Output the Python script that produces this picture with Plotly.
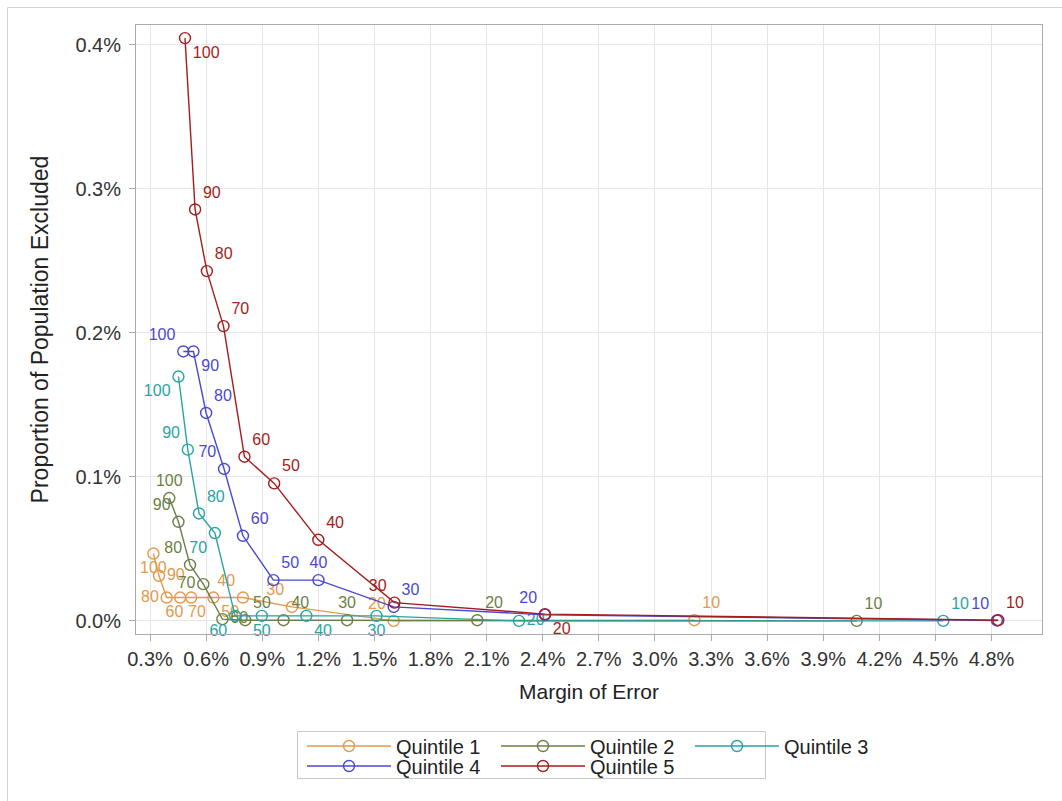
import plotly.graph_objects as go

# Sample size labels (percent of sample kept) for each point
sizes = [100, 90, 80, 70, 60, 50, 40, 30, 20, 10]

# Margin of error (%) and proportion of population excluded (%) by quintile
q1_moe = [0.318, 0.348, 0.389, 0.461, 0.520, 0.639, 0.797, 1.059, 1.603, 3.211]
q1_exc = [0.0468, 0.0313, 0.0162, 0.0162, 0.0162, 0.0162, 0.0162, 0.0097, 0.0000, 0.0005]

q2_moe = [0.403, 0.452, 0.514, 0.585, 0.687, 0.809, 1.014, 1.354, 2.050, 4.079]
q2_exc = [0.0853, 0.0688, 0.0389, 0.0255, 0.0012, 0.0005, 0.0005, 0.0005, 0.0005, 0.0000]

q3_moe = [0.452, 0.502, 0.562, 0.647, 0.755, 0.898, 1.136, 1.511, 2.273, 4.542]
q3_exc = [0.1697, 0.1189, 0.0746, 0.0610, 0.0035, 0.0035, 0.0035, 0.0035, 0.0000, 0.0000]

q4_moe = [0.478, 0.532, 0.600, 0.696, 0.797, 0.960, 1.201, 1.603, 2.412, 4.829]
q4_exc = [0.1871, 0.1871, 0.1444, 0.1055, 0.0591, 0.0283, 0.0283, 0.0097, 0.0042, 0.0003]

q5_moe = [0.487, 0.541, 0.604, 0.693, 0.805, 0.964, 1.200, 1.607, 2.412, 4.836]
q5_exc = [0.4047, 0.2857, 0.2429, 0.2047, 0.1140, 0.0955, 0.0563, 0.0127, 0.0047, 0.0005]

names = ["Quintile 1", "Quintile 2", "Quintile 3", "Quintile 4", "Quintile 5"]
colors = ["#E3994A", "#6B7F45", "#28A3A3", "#4949CF", "#A51C1C"]

# Where each point label sits relative to its marker
q1_pos = ["bottom center", "middle right", "middle left", "bottom right", "bottom left",
          "bottom right", "top left", "top left", "top left", "top right"]
q2_pos = ["top center", "top left", "top left", "middle left", "middle right",
          "top right", "top right", "top center", "top right", "top right"]
q3_pos = ["bottom left", "top left", "top right", "bottom left", "bottom left",
          "bottom center", "bottom right", "bottom center", "middle right", "top right"]
q4_pos = ["top left", "bottom right", "top right", "top left", "top right",
          "top right", "top center", "top right", "top left", "top left"]
q5_pos = ["bottom right", "top right", "top right", "top right", "top right",
          "top right", "top right", "top left", "bottom right", "top right"]

series = [
    (q1_moe, q1_exc, q1_pos, "legend"),
    (q2_moe, q2_exc, q2_pos, "legend"),
    (q3_moe, q3_exc, q3_pos, "legend"),
    (q4_moe, q4_exc, q4_pos, "legend2"),
    (q5_moe, q5_exc, q5_pos, "legend2"),
]

FONT = "Liberation Sans, Arial, sans-serif"

fig = go.Figure()
for (xs, ys, pos, leg), name, col in zip(series, names, colors):
    fig.add_trace(go.Scatter(
        x=xs, y=ys, name=name, legend=leg,
        mode="lines+markers+text",
        text=[str(s) for s in sizes],
        textposition=pos,
        textfont=dict(family=FONT, size=16, color=col),
        line=dict(color=col, width=1.4),
        marker=dict(symbol="circle-open", size=11, color=col, line=dict(width=1.4, color=col)),
        cliponaxis=False,
    ))

# Plot area: 136..1042 px wide, 25..634 px tall
L, R, T, B = 136, 20, 25, 167
W, H = 1062, 801
pw, ph = W - L - R, H - T - B


def px_x(p):
    return (p - L) / pw


def px_y(p):
    return (H - B - p) / ph


axis_common = dict(
    showline=True, mirror=True, linecolor="#A7ABB0", linewidth=1,
    showgrid=True, gridcolor="#E6E6E6", gridwidth=1,
    ticks="outside", ticklen=6, tickcolor="#A7ABB0",
    tickfont=dict(family=FONT, size=20, color="#333333"),
    zeroline=False,
    ticksuffix="%", tickformat=".1f",
)

fig.update_xaxes(
    range=[0.225, 5.07], tick0=0.3, dtick=0.3, ticklabelstandoff=1,
    title=dict(text="Margin of Error", font=dict(family=FONT, size=21, color="#222222"), standoff=15),
    **axis_common,
)
fig.update_yaxes(
    range=[-0.0091, 0.4138], tick0=0.0, dtick=0.1, ticklabelstandoff=4,
    title=dict(text="Proportion of Population Excluded", font=dict(family=FONT, size=23, color="#222222"), standoff=20),
    **axis_common,
)

legend_style = dict(
    orientation="h", xanchor="left", yanchor="middle",
    bgcolor="rgba(0,0,0,0)", borderwidth=0,
    font=dict(family=FONT, size=20, color="#222222"),
    itemwidth=84, entrywidthmode="pixels", entrywidth=95,
    itemclick=False, itemdoubleclick=False,
)

fig.update_layout(
    width=W, height=H,
    margin=dict(l=L, r=R, t=T, b=B),
    paper_bgcolor="white", plot_bgcolor="white",
    showlegend=True,
    legend=dict(x=px_x(302), y=px_y(746), **legend_style),
    legend2=dict(x=px_x(302), y=px_y(766), **legend_style),
    shapes=[
        # outer frame of the graph
        dict(type="rect", xref="paper", yref="paper",
             x0=px_x(7.5), x1=px_x(1200), y0=px_y(1000), y1=px_y(7.5),
             line=dict(color="#D2D2D2", width=1), fillcolor="rgba(0,0,0,0)", layer="below"),
        # legend box
        dict(type="rect", xref="paper", yref="paper",
             x0=px_x(297.5), x1=px_x(765.5), y0=px_y(778.5), y1=px_y(731.5),
             line=dict(color="#C8C8C8", width=1), fillcolor="rgba(0,0,0,0)"),
    ],
)

fig.write_html("out.html")
